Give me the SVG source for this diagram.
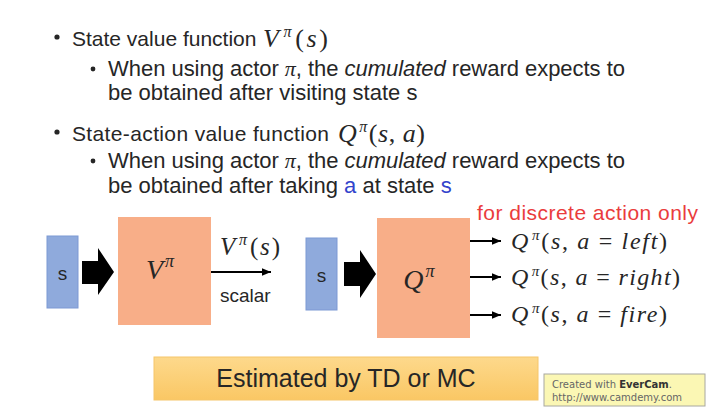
<svg xmlns="http://www.w3.org/2000/svg" width="712" height="415" viewBox="0 0 712 415">
  <defs>
    <marker id="ah" markerUnits="userSpaceOnUse" markerWidth="10" markerHeight="10" viewBox="0 0 10 10" refX="9" refY="5" orient="auto">
      <path d="M0,1.2 L9,5 L0,8.8 Z" fill="#000"/>
    </marker>
    <linearGradient id="gold" x1="0" y1="0" x2="0" y2="1">
      <stop offset="0" stop-color="#fdd98c"/>
      <stop offset="1" stop-color="#fac764"/>
    </linearGradient>
  </defs>
  <style>
    .t { font-family: "Liberation Sans", Arial, sans-serif; fill: #262626; }
    .m { font-family: "Liberation Serif", "Times New Roman", serif; font-style: italic; fill: #262626; }
    .up { font-style: normal; }
    .blue { fill: #3344cc; }
    .sbox { fill: #8faadc; stroke: #7d99d4; stroke-width: 1; }
    .obox { fill: #f8ae88; }
    .conn { stroke: #000; stroke-width: 2; fill: none; }
    .block { fill: #000; }
  </style>
  <rect width="712" height="415" fill="#ffffff"/>

  <!-- bullet text -->
  <g id="bullets">
    <circle cx="57" cy="37" r="2.6" fill="#262626"/>
    <text class="t" x="72" y="46" font-size="21">State value function</text>
    <text class="m" x="263" y="47" font-size="26" textLength="65" lengthAdjust="spacing">V<tspan font-size="16" dx="2" dy="-10">π</tspan><tspan class="up" dx="1" dy="10">(</tspan>s<tspan class="up">)</tspan></text>

    <circle cx="93" cy="69" r="2.4" fill="#262626"/>
    <text class="t" x="108" y="76" font-size="22" textLength="517" lengthAdjust="spacing">When using actor <tspan class="m" style="font-size:22px">π</tspan>, the <tspan font-style="italic">cumulated</tspan> reward expects to</text>
    <text class="t" x="108" y="100" font-size="22">be obtained after visiting state s</text>

    <circle cx="57" cy="132" r="2.6" fill="#262626"/>
    <text class="t" x="72" y="141" font-size="21" textLength="257" lengthAdjust="spacing">State-action value function</text>
    <text class="m" x="338" y="142" font-size="26" textLength="87" lengthAdjust="spacing">Q<tspan font-size="16" dx="2" dy="-10">π</tspan><tspan class="up" dx="1" dy="10">(</tspan>s<tspan class="up">, </tspan>a<tspan class="up">)</tspan></text>

    <circle cx="93" cy="161" r="2.4" fill="#262626"/>
    <text class="t" x="108" y="168" font-size="22" textLength="517" lengthAdjust="spacing">When using actor <tspan class="m" style="font-size:22px">π</tspan>, the <tspan font-style="italic">cumulated</tspan> reward expects to</text>
    <text class="t" x="108" y="193" font-size="22">be obtained after taking <tspan class="blue">a</tspan> at state <tspan class="blue">s</tspan></text>
  </g>

  <!-- nodes -->
  <g id="s1">
    <rect class="sbox" x="47" y="236" width="31" height="72"/>
    <text class="t" x="62.5" y="280" font-size="19" text-anchor="middle">s</text>
  </g>
  <g id="V">
    <rect class="obox" x="118" y="217" width="93" height="108"/>
    <text class="m" x="160" y="279" font-size="28" text-anchor="middle">V<tspan font-size="18" dx="2" dy="-12">π</tspan></text>
  </g>
  <g id="s2">
    <rect class="sbox" x="306" y="238" width="31" height="72"/>
    <text class="t" x="321.5" y="282" font-size="19" text-anchor="middle">s</text>
  </g>
  <g id="Q">
    <rect class="obox" x="377" y="218" width="93" height="120"/>
    <text class="m" x="419" y="289" font-size="28" text-anchor="middle">Q<tspan font-size="18" dx="2" dy="-12">π</tspan></text>
  </g>

  <!-- connectors -->
  <g id="connectors">
    <polygon class="block" points="82,261 98,261 98,248 114,272 98,295 98,284 82,284"/>
    <polygon class="block" points="344,262 360,262 360,250 376,274 360,298 360,286 344,286"/>
    <line class="conn" x1="211" y1="272" x2="271" y2="272" marker-end="url(#ah)"/>
    <line class="conn" x1="470" y1="241" x2="501" y2="241" marker-end="url(#ah)"/>
    <line class="conn" x1="470" y1="277" x2="501" y2="277" marker-end="url(#ah)"/>
    <line class="conn" x1="470" y1="315" x2="501" y2="315" marker-end="url(#ah)"/>
  </g>

  <!-- labels -->
  <g id="labels">
    <text class="m" x="220" y="255" font-size="25" textLength="60" lengthAdjust="spacing">V<tspan font-size="16" dx="2" dy="-10">π</tspan><tspan class="up" dx="1" dy="10">(</tspan>s<tspan class="up">)</tspan></text>
    <text class="t" x="220" y="302" font-size="19">scalar</text>
    <text class="t" x="477" y="220" font-size="21" style="fill:#ea3c3c" textLength="221" lengthAdjust="spacing">for discrete action only</text>
    <text class="m" x="511" y="249" font-size="24" textLength="156" lengthAdjust="spacing">Q<tspan font-size="15" dx="2" dy="-9">π</tspan><tspan class="up" dy="9">(</tspan>s<tspan class="up">, </tspan>a<tspan class="up"> = </tspan>left<tspan class="up">)</tspan></text>
    <text class="m" x="511" y="285" font-size="24" textLength="169" lengthAdjust="spacing">Q<tspan font-size="15" dx="2" dy="-9">π</tspan><tspan class="up" dy="9">(</tspan>s<tspan class="up">, </tspan>a<tspan class="up"> = </tspan>right<tspan class="up">)</tspan></text>
    <text class="m" x="511" y="322" font-size="24" textLength="156" lengthAdjust="spacing">Q<tspan font-size="15" dx="2" dy="-9">π</tspan><tspan class="up" dy="9">(</tspan>s<tspan class="up">, </tspan>a<tspan class="up"> = </tspan>fire<tspan class="up">)</tspan></text>
  </g>

  <g id="estimate">
    <rect x="154" y="357" width="384" height="43" fill="url(#gold)" stroke="#f6c66a" stroke-width="1"/>
    <text class="t" x="346" y="387" font-size="25" text-anchor="middle" fill="#222">Estimated by TD or MC</text>
  </g>

  <g id="watermark">
    <rect x="544" y="374" width="161" height="32" fill="#fbf7b4" stroke="#a8a8a0" stroke-width="1"/>
    <text x="552" y="388" font-family="'DejaVu Sans', Verdana, sans-serif" font-size="10" fill="#666">Created with <tspan font-weight="bold" fill="#333">EverCam</tspan>.</text>
    <text x="552" y="401" font-family="'DejaVu Sans', Verdana, sans-serif" font-size="10" fill="#666">http://www.camdemy.com</text>
  </g>
</svg>
